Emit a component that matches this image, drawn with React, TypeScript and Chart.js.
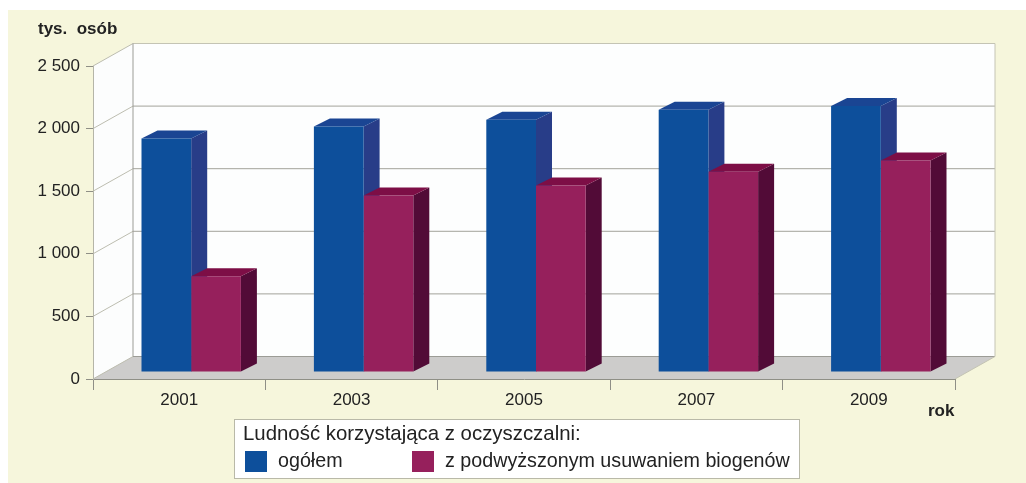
import React, { useEffect, useRef } from "react";
import { Chart, registerables } from "chart.js";

Chart.register(...registerables);

const years = ["2001", "2003", "2005", "2007", "2009"];
const total = [1865, 1960, 2015, 2095, 2125];
const withNutrientRemoval = [765, 1410, 1490, 1600, 1690];
const seriesLabels = ["ogółem", "z podwyższonym usuwaniem biogenów"];
const legendTitle = "Ludność korzystająca z oczyszczalni:";
const yAxisUnit = "tys.\u00a0\u00a0osób";
const xAxisUnit = "rok";

const PANEL = "#f6f6dc";
const BLUE = { front: "#0d4f9b", side: "#283d88", top: "#1a4593" };
const PURPLE = { front: "#96205c", side: "#520b37", top: "#7d0e46" };
const FONT = '"Liberation Sans", Arial, sans-serif';

// Depth of the room behind the axes, and where the bars stand inside it.
const ROOM_DX = 40;
const ROOM_DY = -22.5;
const BAR_SHIFT_X = 12;
const BAR_SHIFT_Y = -7;
const BAR_DEPTH_X = 16;
const BAR_DEPTH_Y = -8;

function poly(ctx: CanvasRenderingContext2D, pts: number[][], fill: string | null, stroke?: string) {
  ctx.beginPath();
  pts.forEach(([x, y], i) => (i ? ctx.lineTo(x, y) : ctx.moveTo(x, y)));
  ctx.closePath();
  if (fill) {
    ctx.fillStyle = fill;
    ctx.fill();
  }
  if (stroke) {
    ctx.strokeStyle = stroke;
    ctx.lineWidth = 1;
    ctx.stroke();
  }
}

function line(ctx: CanvasRenderingContext2D, x1: number, y1: number, x2: number, y2: number, color: string) {
  ctx.beginPath();
  ctx.moveTo(x1, y1);
  ctx.lineTo(x2, y2);
  ctx.strokeStyle = color;
  ctx.lineWidth = 1;
  ctx.stroke();
}

// Panel background, walls, floor and the gridlines that run around the room.
const roomPlugin = {
  id: "room",
  beforeDraw(chart: any) {
    const { ctx, chartArea: a, scales } = chart;
    const d = ROOM_DX;
    const h = ROOM_DY;
    ctx.save();
    ctx.fillStyle = "#ffffff";
    ctx.fillRect(0, 0, chart.width, chart.height);
    ctx.fillStyle = PANEL;
    ctx.fillRect(8, 10, chart.width - 8, chart.height - 10);

    poly(ctx, [[a.left + d, a.top + h], [a.right + d, a.top + h], [a.right + d, a.bottom + h], [a.left + d, a.bottom + h]], "#fdfefe");
    poly(ctx, [[a.left, a.top], [a.left + d, a.top + h], [a.left + d, a.bottom + h], [a.left, a.bottom]], "#fcfdfd");
    poly(ctx, [[a.left, a.bottom], [a.left + d, a.bottom + h], [a.right + d, a.bottom + h], [a.right, a.bottom]], "#cdcccb");

    for (const v of scales.y.ticks.map((t: any) => t.value)) {
      const y = scales.y.getPixelForValue(v);
      if (v > 0 && v < 2500) line(ctx, a.left + d, y + h, a.right + d, y + h, "#a3a39b");
      if (v > 0) line(ctx, a.left, y, a.left + d, y + h, "#bdbdb0");
    }
    line(ctx, a.left + d, a.top + h, a.right + d, a.top + h, "#c4c4b4");
    line(ctx, a.right + d, a.top + h, a.right + d, a.bottom + h, "#c4c4b4");
    line(ctx, a.left + d, a.top + h, a.left + d, a.bottom + h, "#9c9c96");
    line(ctx, a.left + d, a.bottom + h, a.right + d, a.bottom + h, "#9c9c96");
    line(ctx, a.right, a.bottom, a.right + d, a.bottom + h, "#c4c4b4");
    line(ctx, a.left, a.bottom, a.left + d, a.bottom + h, "#bdbdb0");
    ctx.restore();
  },
  beforeDatasetsDraw(chart: any) {
    const { ctx } = chart;
    ctx.save();
    ctx.translate(BAR_SHIFT_X, BAR_SHIFT_Y);
    // Side and top faces go down first so the front faces sit over them.
    [BLUE, PURPLE].forEach((palette, i) => {
      for (const bar of chart.getDatasetMeta(i).data) {
        const left = bar.x - bar.width / 2;
        const right = bar.x + bar.width / 2;
        const dx = BAR_DEPTH_X;
        const dy = BAR_DEPTH_Y;
        poly(ctx, [[right, bar.y], [right + dx, bar.y + dy], [right + dx, bar.base + dy], [right, bar.base]], palette.side);
        poly(ctx, [[left, bar.y], [left + dx, bar.y + dy], [right + dx, bar.y + dy], [right, bar.y]], palette.top);
      }
    });
  },
  afterDatasetsDraw(chart: any) {
    chart.ctx.restore();
  },
  afterDraw(chart: any) {
    const { ctx } = chart;
    ctx.save();
    ctx.fillStyle = "#222222";
    ctx.textBaseline = "middle";
    ctx.textAlign = "left";
    ctx.font = `bold 17px ${FONT}`;
    ctx.fillText(yAxisUnit, 38, 29);
    ctx.fillText(xAxisUnit, 928, 411);

    // Legend box under the chart.
    ctx.fillStyle = "#ffffff";
    ctx.fillRect(234, 419.5, 565, 59);
    ctx.strokeStyle = "#b9b9a8";
    ctx.lineWidth = 1;
    ctx.strokeRect(234.5, 419.5, 565, 59);
    ctx.fillStyle = "#222222";
    ctx.font = `20.4px ${FONT}`;
    ctx.fillText(legendTitle, 243, 434);
    ctx.font = `19.7px ${FONT}`;
    ctx.fillText(seriesLabels[0], 278, 462);
    ctx.fillText(seriesLabels[1], 445, 462);
    ctx.fillStyle = BLUE.front;
    ctx.fillRect(245, 451, 22, 21);
    ctx.fillStyle = PURPLE.front;
    ctx.fillRect(412, 451, 22, 21);
    ctx.restore();
  },
};

export default function App() {
  const ref = useRef<HTMLCanvasElement>(null);
  useEffect(() => {
    const chart = new Chart(ref.current!, {
      type: "bar",
      data: {
        labels: years,
        datasets: [
          { label: seriesLabels[0], data: total, backgroundColor: BLUE.front, borderWidth: 0 },
          { label: seriesLabels[1], data: withNutrientRemoval, backgroundColor: PURPLE.front, borderWidth: 0 },
        ],
      },
      options: {
        animation: false,
        responsive: false,
        devicePixelRatio: 1,
        clip: false,
        categoryPercentage: 0.5766,
        barPercentage: 1,
        layout: { padding: { top: 66, right: 71, left: 0, bottom: 0 } },
        plugins: { legend: { display: false }, title: { display: false }, tooltip: { enabled: false } },
        scales: {
          x: {
            offset: true,
            grid: { offset: true, drawOnChartArea: false, tickLength: 11, color: "#8f8f86" },
            border: { color: "#8f8f86" },
            ticks: { color: "#222222", font: { family: FONT, size: 17 }, padding: 0, maxRotation: 0, autoSkip: false },
            afterFit(scale: any) {
              scale.height = 104;
            },
          },
          y: {
            min: 0,
            max: 2500,
            ticks: {
              stepSize: 500,
              color: "#222222",
              font: { family: FONT, size: 17 },
              padding: 6,
              callback: (v: any) => (v >= 1000 ? `${Math.floor(v / 1000)} ${String(v % 1000).padStart(3, "0")}` : `${v}`),
            },
            grid: { drawOnChartArea: false, tickLength: 7, color: "#8f8f86" },
            border: { color: "#b5b5a8" },
            afterFit(scale: any) {
              scale.width = 93;
            },
          },
        },
      } as any,
      plugins: [roomPlugin],
    });
    return () => chart.destroy();
  }, []);
  return (
    <div style={{ position: "absolute", left: 0, top: 0, width: 1026, height: 483 }}>
      <canvas ref={ref} width={1026} height={483} style={{ display: "block" }} />
    </div>
  );
}
